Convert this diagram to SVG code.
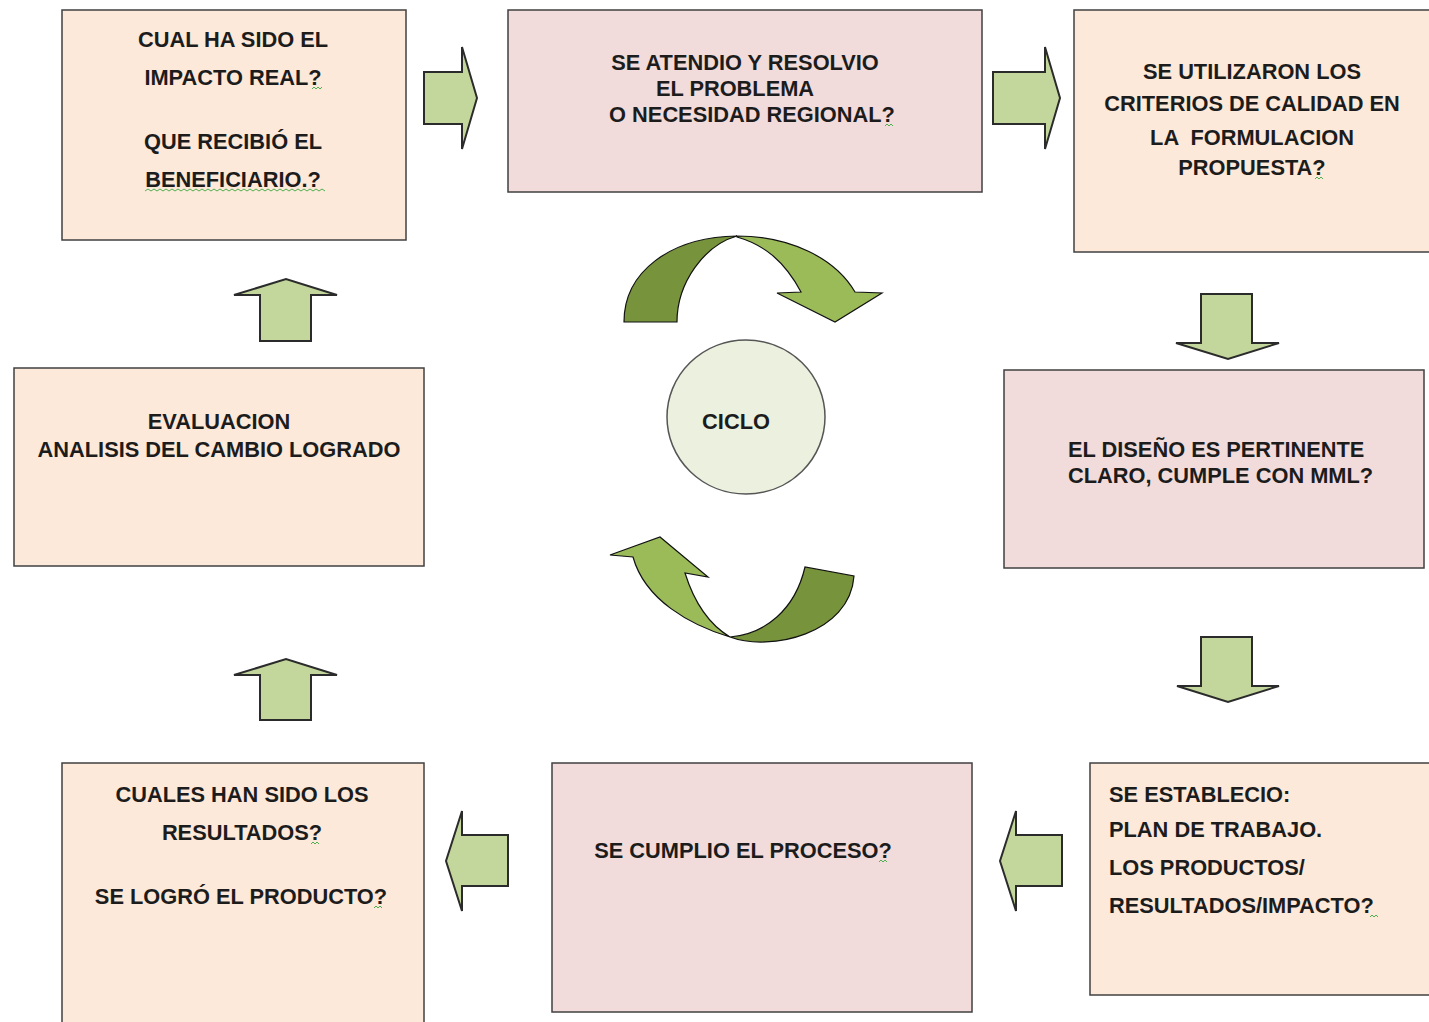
<svg xmlns="http://www.w3.org/2000/svg" width="1429" height="1022" viewBox="0 0 1429 1022">
<defs>
<style>
.peach{fill:#fde9d9;stroke:#404040;stroke-width:1.5}
.pink{fill:#f2dcdb;stroke:#404040;stroke-width:1.5}
.t{font-family:"Liberation Sans",Arial,sans-serif;font-weight:bold;font-size:21.8px;fill:#1c1c1c}
.c{text-anchor:middle}
.blk{fill:#c3d69b;stroke:#2b2b2b;stroke-width:2;stroke-linejoin:miter}
.dark{fill:#77933c;stroke:#111;stroke-width:1.2}
.light{fill:#9bbb59;stroke:#111;stroke-width:1.2}
.sq{fill:none;stroke:#4caf50;stroke-width:1}
</style>
</defs>
<rect width="1429" height="1022" fill="#ffffff"/>
<g id="node-impacto">
<rect class="peach" x="62" y="10" width="344" height="230"/>
<text class="t c" x="233" y="47">CUAL HA SIDO EL</text>
<text class="t c" x="233" y="85">IMPACTO REAL?</text>
<text class="t c" x="233" y="149">QUE RECIBIÓ EL</text>
<text class="t c" x="233" y="187">BENEFICIARIO.?</text>
<path class="sq" d="M312,89 l2,-2 2,2 2,-2 2,2 2,-2"/>
<path class="sq" d="M145,191 l3,-2 3,2 3,-2 3,2 3,-2 3,2 3,-2 3,2 3,-2 3,2 3,-2 3,2 3,-2 3,2 3,-2 3,2 3,-2 3,2 3,-2 3,2 3,-2 3,2 3,-2 3,2 3,-2 3,2 3,-2 3,2 3,-2 3,2 3,-2 3,2 3,-2 3,2 3,-2 3,2 3,-2 3,2 3,-2 3,2 3,-2 3,2 3,-2 3,2 3,-2 3,2 3,-2 3,2 3,-2 3,2 3,-2 3,2 3,-2 3,2 3,-2 3,2 3,-2 3,2 3,-2 3,2"/>
</g>
<g id="node-atendio">
<rect class="pink" x="508" y="10" width="474" height="182"/>
<text class="t c" x="745" y="70">SE ATENDIO Y RESOLVIO</text>
<text class="t c" x="735" y="96">EL PROBLEMA</text>
<text class="t c" x="752" y="122">O NECESIDAD REGIONAL?</text>
<path class="sq" d="M885,126 l2,-2 2,2 2,-2 2,2"/>
</g>
<g id="node-criterios">
<rect class="peach" x="1074" y="10" width="360" height="242"/>
<text class="t c" x="1252" y="79">SE UTILIZARON LOS</text>
<text class="t c" x="1252" y="111">CRITERIOS DE CALIDAD EN</text>
<text class="t c" x="1252" y="145" xml:space="preserve" style="white-space:pre">LA  FORMULACION</text>
<text class="t c" x="1252" y="175">PROPUESTA?</text>
<path class="sq" d="M1315,179 l2,-2 2,2 2,-2 2,2"/>
</g>
<g id="node-diseno">
<rect class="pink" x="1004" y="370" width="420" height="198"/>
<text class="t" x="1068" y="457">EL DISEÑO ES PERTINENTE</text>
<text class="t" x="1068" y="483">CLARO, CUMPLE CON MML?</text>
</g>
<g id="node-establecio">
<rect class="peach" x="1090" y="763" width="344" height="232"/>
<text class="t" x="1109" y="802">SE ESTABLECIO:</text>
<text class="t" x="1109" y="837">PLAN DE TRABAJO.</text>
<text class="t" x="1109" y="875">LOS PRODUCTOS/</text>
<text class="t" x="1109" y="913">RESULTADOS/IMPACTO?</text>
<path class="sq" d="M1370,917 l2,-2 2,2 2,-2 2,2"/>
</g>
<g id="node-proceso">
<rect class="pink" x="552" y="763" width="420" height="249"/>
<text class="t c" x="743" y="858">SE CUMPLIO EL PROCESO?</text>
<path class="sq" d="M879,862 l2,-2 2,2 2,-2 2,2"/>
</g>
<g id="node-resultados">
<rect class="peach" x="62" y="763" width="362" height="270"/>
<text class="t c" x="242" y="802">CUALES HAN SIDO LOS</text>
<text class="t c" x="242" y="840">RESULTADOS?</text>
<text class="t c" x="241" y="904">SE LOGRÓ EL PRODUCTO?</text>
<path class="sq" d="M311,844 l2,-2 2,2 2,-2 2,2"/>
<path class="sq" d="M374,908 l2,-2 2,2 2,-2 2,2"/>
</g>
<g id="node-evaluacion">
<rect class="peach" x="14" y="368" width="410" height="198"/>
<text class="t c" x="219" y="429">EVALUACION</text>
<text class="t c" x="219" y="457">ANALISIS DEL CAMBIO LOGRADO</text>
</g>
<g id="node-ciclo">
<ellipse cx="746" cy="417" rx="79" ry="77" fill="#ebf1de" stroke="#555" stroke-width="1.5"/>
<text class="t c" x="736" y="429">CICLO</text>
</g>
<g id="connectors">
<path class="blk" d="M424,72 L462,72 L462,47 L477,98 L462,149 L462,124 L424,124 Z"/>
<path class="blk" d="M993,72 L1045,72 L1045,47 L1060,98 L1045,149 L1045,124 L993,124 Z"/>
<path class="blk" d="M1201,294 L1252,294 L1252,343 L1279,343 L1228,359 L1176,343 L1201,343 Z"/>
<path class="blk" d="M1201,637 L1252,637 L1252,686 L1279,686 L1228,702 L1177,686 L1201,686 Z"/>
<path class="blk" d="M508,835 L462,835 L462,811 L446,861 L462,911 L462,886 L508,886 Z"/>
<path class="blk" d="M1062,835 L1016,835 L1016,811 L1000,861 L1016,911 L1016,886 L1062,886 Z"/>
<path class="blk" d="M260,341 L311,341 L311,295 L337,295 L286,279 L234,295 L260,295 Z"/>
<path class="blk" d="M260,720 L311,720 L311,675 L337,675 L286,659 L234,675 L260,675 Z"/>
<path class="dark" d="M624,322 C624,272 670,237 737,236 C705,245 677,282 677,322 Z"/>
<path class="light" d="M737,236 C790,236 835,258 855,292 L882,293 L835,322 L777,293 L801,292 C785,262 765,245 737,237 Z"/>
<path class="dark" d="M730,637 C770,652 850,634 854,576 L805,567 C795,610 765,634 730,637 Z"/>
<path class="light" d="M730,637 C690,625 645,600 633,557 L610,555 L660,537 L708,577 L685,573 C695,605 710,625 730,637 Z"/>
</g>
</svg>
